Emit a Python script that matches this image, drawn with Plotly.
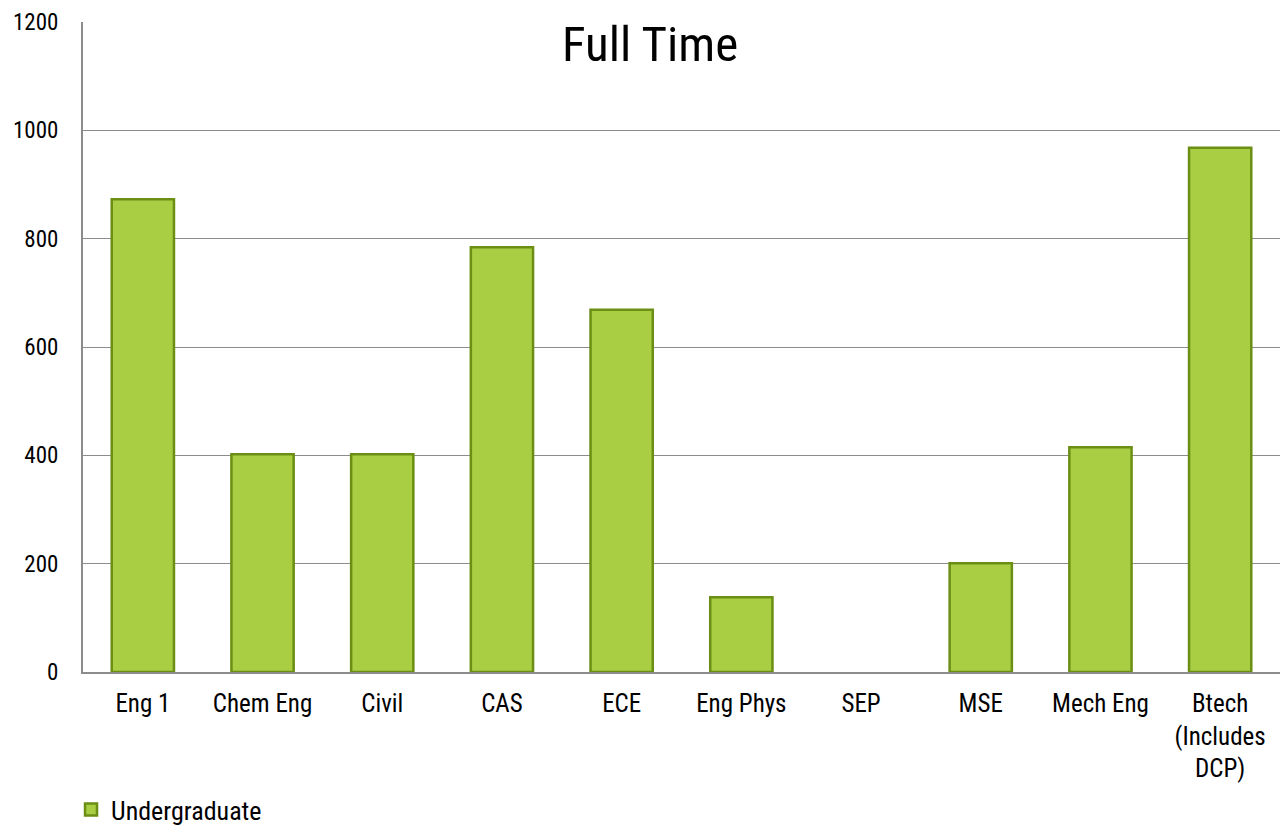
import plotly.graph_objects as go

categories = ["Eng 1", "Chem Eng", "Civil", "CAS", "ECE", "Eng Phys", "SEP",
              "MSE", "Mech Eng", "Btech<br>(Includes<br>DCP)"]
undergraduate = [873, 402, 402, 784, 669, 138, 0, 201, 415, 968]
y_ticks = [0, 200, 400, 600, 800, 1000, 1200]

FONT = "Roboto Condensed, Roboto, sans-serif"

# empty bars (SEP) get no outline, as in the original
outline_widths = [2.5 if v > 0 else 0 for v in undergraduate]

fig = go.Figure()

fig.add_trace(
    go.Bar(
        x=categories,
        y=undergraduate,
        name="Undergraduate",
        marker=dict(color="#a9ce44", line=dict(color="#6b8f14", width=outline_widths)),
    )
)

fig.update_layout(
    width=1280,
    height=833,
    margin=dict(l=83, r=0, t=22, b=161),
    paper_bgcolor="white",
    plot_bgcolor="white",
    font=dict(family=FONT, size=25, color="black"),
    bargap=0.48,
    showlegend=True,
    # container-referenced legend so it doesn't push the bottom margin
    legend=dict(
        orientation="h",
        x=-0.01,
        xanchor="left",
        yref="container",
        y=0.0,
        yanchor="bottom",
        font=dict(size=26),
        itemwidth=30,
    ),
    xaxis=dict(
        automargin=False,
        showline=True,
        linecolor="#8c8c8c",
        linewidth=2,
        showgrid=False,
        ticks="",
        tickangle=0,
        ticklabelstandoff=8,
        tickfont=dict(size=25),
    ),
    yaxis=dict(
        automargin=False,
        range=[0, 1200],
        tickvals=y_ticks,
        showline=True,
        linecolor="#8c8c8c",
        linewidth=2,
        showgrid=True,
        gridcolor="#8c8c8c",
        gridwidth=1,
        zeroline=False,
        ticks="",
        ticklabelstandoff=18,
        tickfont=dict(size=23),
    ),
    annotations=[
        dict(
            text="Full Time",
            x=(650 - 83) / (1280 - 83),
            xref="paper",
            xanchor="center",
            y=1.0,
            yref="paper",
            yshift=-22,
            yanchor="middle",
            showarrow=False,
            font=dict(family=FONT, size=49, color="black"),
        )
    ],
)

# drop the default page margin so the figure sits at the window origin
fig.write_html(
    "out.html",
    config={"displayModeBar": False},
    post_script="document.body.style.margin = '0';",
)
